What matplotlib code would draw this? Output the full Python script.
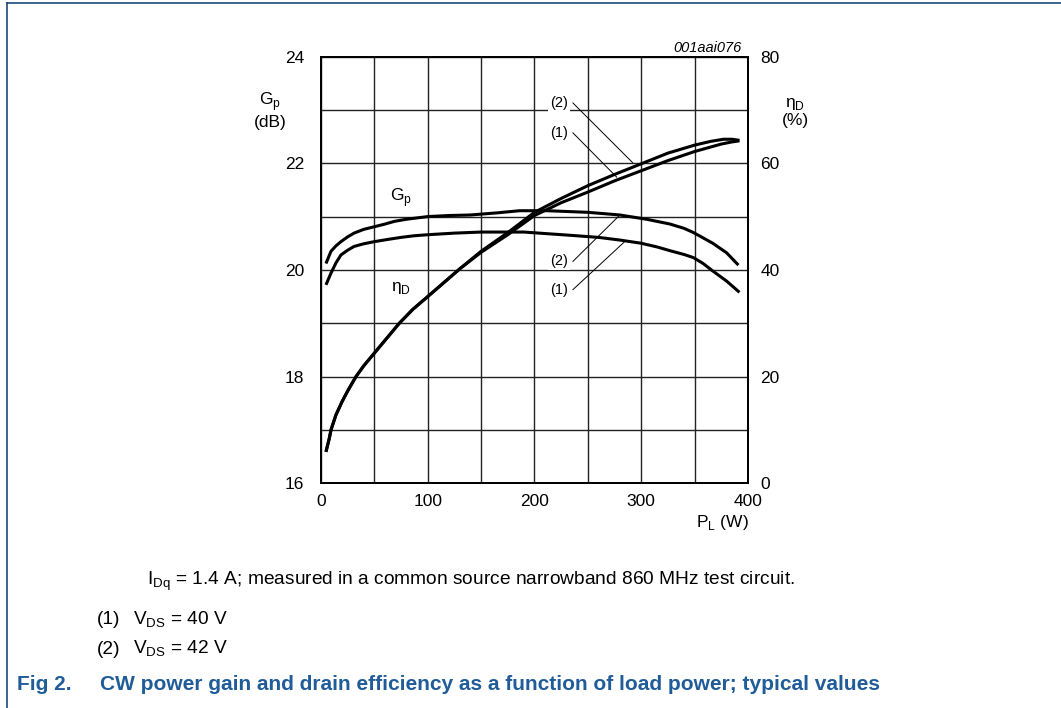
#!/usr/bin/env python3
# Grafica: ganancia CW y eficiencia de drenador vs potencia de carga
import numpy as np
import matplotlib
matplotlib.use("Agg")
import matplotlib.pyplot as plt

plt.rcParams["font.family"] = ["Liberation Sans", "DejaVu Sans"]

# Ganancia Gp (dB) vs PL (W)
pl_gp1 = [4.7, 9.4, 14, 18.7, 25, 31, 40, 50, 62, 75, 87, 100, 125, 150, 190, 233, 260,
          280, 300, 315, 327, 340, 349, 358, 367, 380, 392]
gp1    = [19.72, 19.94, 20.13, 20.28, 20.37, 20.44, 20.49, 20.53, 20.57, 20.61, 20.64, 20.66,
          20.69, 20.71, 20.71, 20.65, 20.61, 20.56, 20.5, 20.43, 20.36, 20.29, 20.23, 20.12,
          19.98, 19.79, 19.58]
pl_gp2 = [4.7, 9.4, 14, 18.7, 25, 31, 40, 50, 60, 68.7, 80, 100, 120, 140, 165, 186, 212,
          250, 280, 305, 327, 340, 349, 358, 367, 380, 391]
gp2    = [20.12, 20.35, 20.45, 20.53, 20.62, 20.69, 20.76, 20.81, 20.86, 20.91, 20.95, 21.0,
          21.02, 21.03, 21.07, 21.11, 21.11, 21.08, 21.03, 20.95, 20.86, 20.78, 20.7, 20.6,
          20.5, 20.32, 20.09]

# Eficiencia de drenador (%) vs PL (W)
pl_eta1 = [4.7, 7.8, 9.4, 14, 20, 25, 32.8, 40, 50, 60, 73.4, 86, 100, 115, 130, 150,
           175, 200, 225, 250, 275, 300, 325, 350, 375, 385, 392]
eta_d1  = [5.9, 8.4, 10.0, 12.8, 15.4, 17.3, 20.0, 22.0, 24.4, 26.8, 30.0, 32.6, 35.0,
           37.6, 40.2, 43.3, 46.6, 50.2, 52.6, 54.6, 56.7, 58.6, 60.5, 62.2, 63.6, 64.0, 64.2]
pl_eta2 = [4.7, 7.8, 9.4, 14, 20, 25, 32.8, 40, 50, 60, 73.4, 86, 100, 115, 130, 150,
           175, 200, 225, 250, 275, 300, 325, 350, 365, 377, 385, 392]
eta_d2  = [5.9, 8.4, 10.0, 12.8, 15.4, 17.3, 20.0, 22.0, 24.4, 26.8, 30.0, 32.6, 35.0,
           37.6, 40.2, 43.5, 47.0, 50.8, 53.4, 55.8, 57.9, 59.9, 61.9, 63.4, 64.1, 64.5, 64.5, 64.3]

AZUL = "#1f5c99"
FS = 12.5

fig = plt.figure(figsize=(10.61, 7.08), dpi=100)
ax = fig.add_axes([0.3025, 0.3174, 0.4025, 0.6027])
ax2 = ax.twinx()

ax.set_xlim(0, 400)
ax.set_ylim(16, 24)
ax2.set_ylim(0, 80)

ax.set_xticks(np.arange(0, 401, 50))
ax.set_xticklabels(["0", "", "100", "", "200", "", "300", "", "400"])
ax.set_yticks(np.arange(16, 24.1, 1))
ax.set_yticklabels(["16", "", "18", "", "20", "", "22", "", "24"])
ax2.set_yticks(np.arange(0, 81, 10))
ax2.set_yticklabels(["0", "", "20", "", "40", "", "60", "", "80"])

ax.grid(True, color="#222222", lw=1.0)
for a in (ax, ax2):
    a.tick_params(length=0, labelsize=FS, colors="black")
    for s in a.spines.values():
        s.set_linewidth(1.3)
ax.tick_params(axis="y", pad=12)
ax.tick_params(axis="x", pad=8)
ax2.tick_params(axis="y", pad=9)

for xs, ys, eje in [(pl_gp1, gp1, ax), (pl_gp2, gp2, ax),
                    (pl_eta1, eta_d1, ax2), (pl_eta2, eta_d2, ax2)]:
    eje.plot(xs, ys, color="black", lw=2.2, solid_capstyle="butt", solid_joinstyle="round")

# etiquetas de curvas
ax.text(75, 21.35, "G$_\\mathregular{p}$", fontsize=FS, ha="center", va="center")
ax.text(75, 19.66, "η$_\\mathregular{D}$", fontsize=FS, ha="center", va="center")

caja = dict(facecolor="white", edgecolor="none", pad=1.5)
etiquetas = [
    ("(2)", 223, 23.13, 292, 22.01),
    ("(1)", 223, 22.57, 277, 21.74),
    ("(2)", 223, 20.16, 280, 21.03),
    ("(1)", 223, 19.63, 285, 20.54),
]
for txt, xt, yt, xe, ye in etiquetas:
    ax.text(xt, yt, txt, fontsize=10.5, ha="center", va="center", bbox=caja, zorder=5)
    ax.plot([xt + 13, xe], [yt, ye], color="black", lw=0.7, zorder=4)

# titulos de ejes
fig.text(270 / 1061, 1 - 110 / 708, "G$_\\mathregular{p}$\n(dB)", fontsize=FS,
         ha="center", va="center", linespacing=1.1)
fig.text(795 / 1061, 1 - 112 / 708, "η$_\\mathregular{D}$\n(%)", fontsize=FS,
         ha="center", va="center", linespacing=1.1)
fig.text(722 / 1061, 1 - 523 / 708, "P$_\\mathregular{L}$ (W)", fontsize=FS,
         ha="center", va="center")
fig.text(742 / 1061, 1 - 48 / 708, "001aai076", fontsize=10.5, style="italic",
         ha="right", va="center")

# notas
FN = 13.8
fig.text(147 / 1061, 1 - 581 / 708,
         "I$_\\mathregular{Dq}$ = 1.4 A; measured in a common source narrowband 860 MHz test circuit.",
         fontsize=FN, ha="left", va="center")
fig.text(97 / 1061, 1 - 620 / 708, "(1)", fontsize=FN, ha="left", va="center")
fig.text(133 / 1061, 1 - 620 / 708, "V$_\\mathregular{DS}$ = 40 V", fontsize=FN, ha="left", va="center")
fig.text(97 / 1061, 1 - 649 / 708, "(2)", fontsize=FN, ha="left", va="center")
fig.text(133 / 1061, 1 - 649 / 708, "V$_\\mathregular{DS}$ = 42 V", fontsize=FN, ha="left", va="center")

fig.text(17 / 1061, 1 - 685 / 708, "Fig 2.", fontsize=15, weight="bold", color=AZUL,
         ha="left", va="center")
fig.text(100 / 1061, 1 - 685 / 708,
         "CW power gain and drain efficiency as a function of load power; typical values",
         fontsize=15, weight="bold", color=AZUL, ha="left", va="center")

# marco azul
fig.add_artist(plt.Line2D([7 / 1061, 7 / 1061], [0, 1 - 3 / 708], color="#1a4a7a", lw=1.2))
fig.add_artist(plt.Line2D([7 / 1061, 1], [1 - 3 / 708, 1 - 3 / 708], color="#1a4a7a", lw=1.2))

fig.savefig("out.png", dpi=100)
